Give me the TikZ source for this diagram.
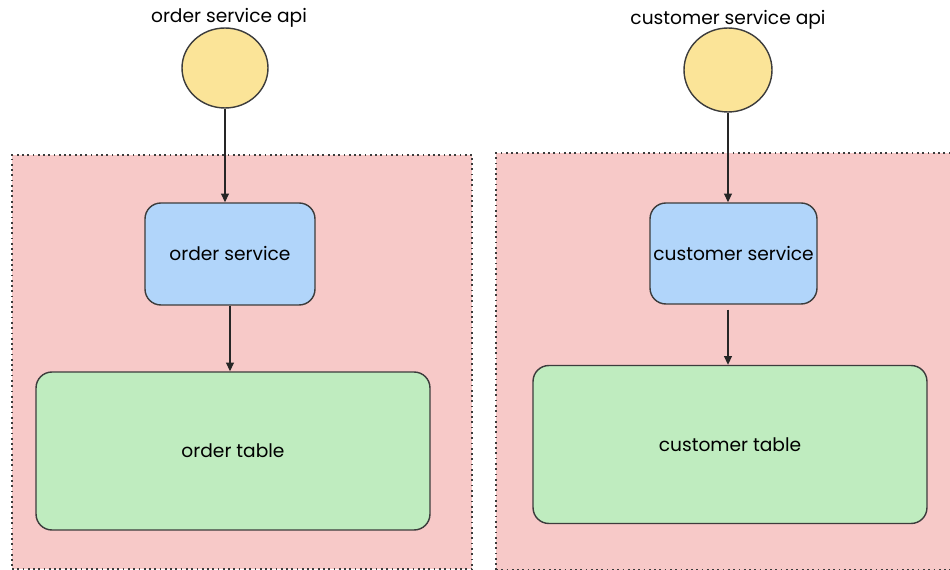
\documentclass[tikz,border=0pt]{standalone}
\usepackage{fontspec}
\setmainfont{Poppins}
\usetikzlibrary{shapes.geometric,arrows.meta}

\definecolor{zonepink}{RGB}{247,201,200}
\definecolor{apiyellow}{RGB}{251,228,152}
\definecolor{svcblue}{RGB}{177,213,250}
\definecolor{tblgreen}{RGB}{191,236,191}
\definecolor{inkgray}{RGB}{60,60,60}

\begin{document}
\begin{tikzpicture}[x=0.02cm,y=-0.02cm,
  zone/.style={draw=inkgray,dash pattern=on 1pt off 2pt,line width=1.1pt,fill=zonepink,inner sep=0pt},
  api/.style={ellipse,draw=inkgray,line width=0.8pt,fill=apiyellow,inner sep=0pt},
  service/.style={rectangle,rounded corners=9pt,draw=inkgray,line width=0.8pt,fill=svcblue,
    inner xsep=1pt,minimum width=3.4cm,minimum height=2.04cm,font=\boxfont},
  table/.style={rectangle,rounded corners=9pt,draw=inkgray,line width=0.8pt,fill=tblgreen,
    minimum width=7.88cm,minimum height=3.16cm,font=\boxfont},
  flow/.style={draw=black!85,line width=0.7pt,-{Triangle[length=5pt,width=4.5pt]}},
  label/.style={font=\boxfont}]
\newcommand\boxfont{\fontsize{10.6}{13}\selectfont}
\useasboundingbox[fill=white] (0,0) rectangle (950,570);

% order side
\node[zone,minimum width=9.2cm,minimum height=8.3cm] (orderzone) at (242,362) {};
\node[label] (orderapilbl) at (229,18) {order service api};
\node[api,minimum width=1.72cm,minimum height=1.6cm] (orderapi) at (225,68) {};
\node[service] (ordersvc) at (230,254) {order service};
\node[table] (ordertbl) at (233,451) {order table};

% customer side
\node[zone,minimum width=9.6cm,minimum height=8.34cm] (custzone) at (736,361.5) {};
\node[label] (custapilbl) at (728,20) {customer service api};
\node[api,minimum width=1.76cm,minimum height=1.68cm] (custapi) at (728,70) {};
\node[service,minimum width=3.34cm,minimum height=2.02cm] (custsvc) at (733.5,253.5) {customer service};
\node[table] (custtbl) at (730,444.5) {customer table};

% arrows
\draw[flow] (orderapi.south) -- (ordersvc.north -| orderapi.south);
\draw[flow] (ordersvc.south) -- (ordertbl.north -| ordersvc.south);
\draw[flow] (custapi.south) -- (custsvc.north -| custapi.south);
\draw[flow] ([yshift=-0.1cm]custsvc.south -| custapi.south) -- (custtbl.north -| custapi.south);
\end{tikzpicture}
\end{document}
